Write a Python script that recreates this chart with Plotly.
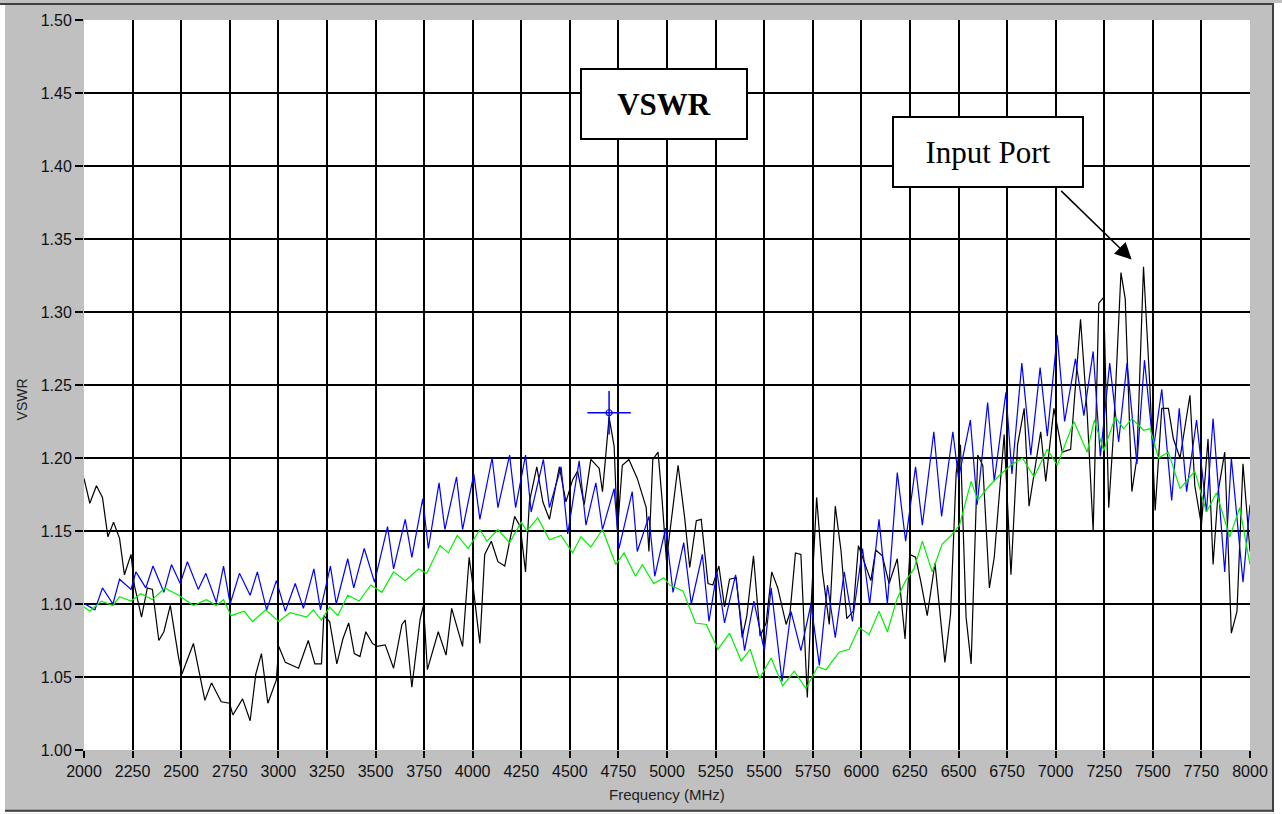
import plotly.graph_objects as go

# ---------------- data ----------------
black_freq = [2000, 2030, 2064, 2095, 2123, 2152, 2183, 2208, 2242, 2259, 2296, 2326, 2352, 2385, 2411, 2444,
              2487, 2504, 2563, 2622, 2656, 2706, 2749, 2766, 2816, 2855, 2884, 2913, 2946, 2990, 3002, 3036,
              3104, 3154, 3188, 3222, 3234, 3264, 3301, 3332, 3362, 3391, 3420, 3450, 3484, 3508, 3550, 3593,
              3636, 3653, 3687, 3730, 3747, 3767, 3823, 3863, 3892, 3948, 3982, 4006, 4037, 4062, 4096, 4130,
              4165, 4216, 4245, 4272, 4292, 4330, 4361, 4395, 4446, 4480, 4514, 4540, 4574, 4608, 4651, 4668,
              4681, 4702, 4728, 4745, 4770, 4804, 4847, 4893, 4907, 4927, 4954, 4975, 4997, 5057, 5091, 5117,
              5151, 5176, 5211, 5236, 5267, 5296, 5322, 5356, 5387, 5411, 5445, 5479, 5510, 5539, 5570, 5613,
              5633, 5661, 5689, 5722, 5741, 5770, 5800, 5835, 5866, 5895, 5925, 5958, 5985, 6014, 6049, 6074,
              6108, 6143, 6185, 6225, 6249, 6279, 6305, 6339, 6379, 6430, 6459, 6488, 6510, 6539, 6565, 6599,
              6625, 6659, 6684, 6735, 6770, 6804, 6838, 6863, 6897, 6923, 6949, 6991, 7034, 7077, 7128, 7162,
              7193, 7222, 7247, 7273, 7298, 7336, 7358, 7392, 7418, 7452, 7483, 7512, 7546, 7580, 7606, 7640,
              7691, 7716, 7750, 7784, 7810, 7836, 7870, 7904, 7933, 7964, 8000]
black_vswr = [1.186, 1.169, 1.181, 1.173, 1.146, 1.156, 1.145, 1.120, 1.134, 1.113, 1.091, 1.111, 1.110, 1.075, 1.081, 1.099,
              1.063, 1.052, 1.073, 1.034, 1.046, 1.033, 1.032, 1.024, 1.035, 1.020, 1.052, 1.066, 1.032, 1.048, 1.071, 1.060,
              1.056, 1.075, 1.059, 1.059, 1.092, 1.088, 1.059, 1.076, 1.087, 1.066, 1.064, 1.081, 1.073, 1.071, 1.072, 1.056,
              1.086, 1.089, 1.043, 1.090, 1.099, 1.055, 1.081, 1.065, 1.097, 1.071, 1.132, 1.108, 1.073, 1.134, 1.143, 1.129,
              1.126, 1.160, 1.153, 1.122, 1.170, 1.194, 1.170, 1.158, 1.194, 1.170, 1.185, 1.191, 1.168, 1.199, 1.193, 1.177,
              1.196, 1.228, 1.208, 1.150, 1.195, 1.199, 1.186, 1.166, 1.136, 1.199, 1.204, 1.171, 1.130, 1.195, 1.159, 1.125,
              1.157, 1.158, 1.114, 1.113, 1.126, 1.098, 1.117, 1.118, 1.077, 1.092, 1.133, 1.078, 1.087, 1.122, 1.111, 1.086,
              1.094, 1.135, 1.134, 1.036, 1.097, 1.173, 1.122, 1.086, 1.167, 1.137, 1.090, 1.095, 1.140, 1.129, 1.116, 1.137,
              1.133, 1.114, 1.131, 1.076, 1.134, 1.132, 1.116, 1.092, 1.128, 1.060, 1.093, 1.190, 1.209, 1.091, 1.059, 1.202,
              1.195, 1.111, 1.132, 1.216, 1.120, 1.209, 1.234, 1.167, 1.195, 1.218, 1.184, 1.234, 1.204, 1.206, 1.295, 1.231,
              1.150, 1.306, 1.310, 1.166, 1.218, 1.327, 1.309, 1.177, 1.200, 1.331, 1.254, 1.164, 1.234, 1.234, 1.213, 1.200,
              1.243, 1.181, 1.154, 1.213, 1.127, 1.177, 1.204, 1.080, 1.095, 1.196, 1.136]

blue_freq = [2005, 2056, 2095, 2149, 2183, 2242, 2267, 2318, 2355, 2411, 2450, 2495, 2532, 2588, 2627, 2681,
             2718, 2752, 2800, 2855, 2892, 2940, 2990, 3036, 3087, 3129, 3183, 3217, 3268, 3298, 3357, 3388,
             3442, 3495, 3562, 3593, 3653, 3687, 3743, 3772, 3827, 3857, 3917, 3948, 4006, 4037, 4100, 4130,
             4190, 4221, 4272, 4301, 4364, 4395, 4455, 4489, 4548, 4583, 4634, 4668, 4728, 4753, 4821, 4847,
             4907, 4937, 4993, 5031, 5086, 5125, 5182, 5216, 5257, 5296, 5353, 5399, 5447, 5501, 5536, 5592,
             5638, 5689, 5741, 5784, 5826, 5866, 5912, 5954, 6006, 6043, 6091, 6134, 6185, 6228, 6279, 6314,
             6373, 6413, 6471, 6500, 6561, 6596, 6650, 6684, 6744, 6775, 6826, 6872, 6920, 6957, 7008, 7046,
             7102, 7145, 7193, 7230, 7278, 7324, 7367, 7418, 7457, 7503, 7546, 7597, 7636, 7674, 7725, 7776,
             7810, 7870, 7904, 7964, 8000]
blue_vswr = [1.100, 1.096, 1.111, 1.100, 1.117, 1.110, 1.122, 1.111, 1.126, 1.108, 1.127, 1.114, 1.129, 1.110, 1.121, 1.101,
             1.126, 1.100, 1.121, 1.106, 1.122, 1.096, 1.116, 1.095, 1.114, 1.097, 1.124, 1.096, 1.126, 1.100, 1.131, 1.111,
             1.138, 1.115, 1.153, 1.124, 1.158, 1.132, 1.172, 1.138, 1.183, 1.151, 1.187, 1.151, 1.189, 1.158, 1.200, 1.166,
             1.202, 1.166, 1.202, 1.163, 1.199, 1.166, 1.194, 1.148, 1.198, 1.154, 1.183, 1.151, 1.179, 1.138, 1.177, 1.136,
             1.160, 1.119, 1.152, 1.108, 1.142, 1.100, 1.134, 1.088, 1.122, 1.087, 1.120, 1.068, 1.102, 1.068, 1.111, 1.047,
             1.095, 1.068, 1.100, 1.058, 1.113, 1.077, 1.122, 1.088, 1.138, 1.100, 1.158, 1.100, 1.190, 1.143, 1.194, 1.154,
             1.218, 1.160, 1.218, 1.186, 1.226, 1.168, 1.238, 1.184, 1.245, 1.189, 1.265, 1.202, 1.262, 1.215, 1.284, 1.225,
             1.268, 1.229, 1.273, 1.201, 1.265, 1.211, 1.265, 1.196, 1.267, 1.206, 1.247, 1.171, 1.234, 1.177, 1.226, 1.163,
             1.227, 1.122, 1.200, 1.115, 1.168]

green_freq = [2000, 2030, 2090, 2149, 2183, 2242, 2292, 2351, 2416, 2487, 2563, 2630, 2681, 2718, 2757, 2825,
              2867, 2935, 3002, 3061, 3146, 3180, 3222, 3264, 3306, 3357, 3416, 3476, 3533, 3593, 3653, 3721,
              3764, 3832, 3875, 3921, 3977, 4037, 4074, 4130, 4190, 4250, 4279, 4335, 4395, 4455, 4514, 4557,
              4608, 4668, 4736, 4779, 4838, 4873, 4932, 4983, 5014, 5082, 5147, 5202, 5262, 5322, 5382, 5428,
              5476, 5536, 5595, 5655, 5715, 5775, 5818, 5886, 5937, 5989, 6040, 6091, 6134, 6185, 6228, 6271,
              6314, 6365, 6416, 6462, 6505, 6565, 6599, 6659, 6718, 6770, 6829, 6889, 6957, 7008, 7094, 7162,
              7199, 7247, 7307, 7350, 7392, 7452, 7486, 7529, 7580, 7640, 7716, 7776, 7827, 7896, 7947, 8000]
green_vswr = [1.098, 1.095, 1.102, 1.099, 1.105, 1.102, 1.107, 1.103, 1.111, 1.106, 1.099, 1.103, 1.099, 1.103, 1.092, 1.095,
              1.088, 1.096, 1.088, 1.094, 1.091, 1.096, 1.089, 1.098, 1.092, 1.106, 1.102, 1.113, 1.108, 1.122, 1.116, 1.124,
              1.121, 1.140, 1.135, 1.147, 1.138, 1.151, 1.143, 1.151, 1.142, 1.156, 1.150, 1.159, 1.144, 1.147, 1.135, 1.146,
              1.139, 1.151, 1.127, 1.135, 1.119, 1.127, 1.114, 1.118, 1.113, 1.109, 1.087, 1.086, 1.069, 1.080, 1.061, 1.069,
              1.049, 1.063, 1.044, 1.054, 1.042, 1.057, 1.055, 1.067, 1.069, 1.084, 1.079, 1.095, 1.081, 1.104, 1.116, 1.124,
              1.143, 1.122, 1.141, 1.147, 1.154, 1.184, 1.171, 1.181, 1.189, 1.195, 1.200, 1.187, 1.206, 1.195, 1.225, 1.204,
              1.226, 1.205, 1.228, 1.220, 1.227, 1.219, 1.220, 1.200, 1.204, 1.179, 1.191, 1.163, 1.176, 1.146, 1.166, 1.127]

cursor_freq = [4702]
cursor_vswr = [1.231]

arrow_tip_freq = 7391
arrow_tip_vswr = 1.336

x_ticks = [2000, 2250, 2500, 2750, 3000, 3250, 3500, 3750, 4000, 4250, 4500, 4750, 5000,
           5250, 5500, 5750, 6000, 6250, 6500, 6750, 7000, 7250, 7500, 7750, 8000]
y_ticks = [1.00, 1.05, 1.10, 1.15, 1.20, 1.25, 1.30, 1.35, 1.40, 1.45, 1.50]
y_tick_text = ["%.2f" % v for v in y_ticks]

# ---------------- figure ----------------
W, H = 1282, 814
L, R, T, B = 84, 32, 17, 64
PW, PH = W - L - R, H - T - B


def px(xp):
    return (xp - L) / PW


def py(yp):
    return (H - B - yp) / PH


fig = go.Figure()
fig.add_trace(go.Scatter(x=black_freq, y=black_vswr, mode="lines",
                         line=dict(color="#000000", width=1.2), hoverinfo="skip"))
fig.add_trace(go.Scatter(x=blue_freq, y=blue_vswr, mode="lines",
                         line=dict(color="#0000ff", width=1.2), hoverinfo="skip"))
fig.add_trace(go.Scatter(x=green_freq, y=green_vswr, mode="lines",
                         line=dict(color="#00f000", width=1.2), hoverinfo="skip"))
fig.add_trace(go.Scatter(x=cursor_freq, y=cursor_vswr, mode="markers",
                         marker=dict(symbol="cross-thin-open", size=31, color="#0000ff",
                                     line=dict(color="#0000ff", width=1.5)), hoverinfo="skip"))
fig.add_trace(go.Scatter(x=cursor_freq, y=cursor_vswr, mode="markers",
                         marker=dict(symbol="circle-open", size=6, color="#0000ff",
                                     line=dict(color="#0000ff", width=1.2)), hoverinfo="skip"))

tickfont = dict(family="Liberation Sans, Arial, sans-serif", size=16, color="#111111")
fig.update_xaxes(range=[2000, 8000], tickvals=x_ticks, ticktext=[str(v) for v in x_ticks],
                 showgrid=True, gridcolor="#000000", gridwidth=1.5, zeroline=False, showline=False,
                 ticks="outside", ticklen=7, tickwidth=1.5, tickcolor="#000000", tickfont=tickfont)
fig.update_yaxes(range=[1.0, 1.5], tickvals=y_ticks, ticktext=y_tick_text,
                 showgrid=True, gridcolor="#000000", gridwidth=1.5, zeroline=False, showline=False,
                 ticks="outside", ticklen=8, tickwidth=1.5, tickcolor="#000000", tickfont=tickfont)

shapes = [
    # window frame
    dict(type="rect", xref="paper", yref="paper", x0=px(0), x1=px(5), y0=py(H), y1=py(0),
         fillcolor="#ffffff", line=dict(width=0), layer="below"),
    dict(type="rect", xref="paper", yref="paper", x0=px(1274), x1=px(W), y0=py(H), y1=py(0),
         fillcolor="#ffffff", line=dict(width=0), layer="below"),
    dict(type="rect", xref="paper", yref="paper", x0=px(0), x1=px(W), y0=py(H), y1=py(812),
         fillcolor="#ffffff", line=dict(width=0), layer="below"),
    dict(type="line", xref="paper", yref="paper", x0=px(0), x1=px(1274), y0=py(1), y1=py(1),
         line=dict(color="#404040", width=2)),
    dict(type="line", xref="paper", yref="paper", x0=px(1273), x1=px(1273), y0=py(0), y1=py(812),
         line=dict(color="#404040", width=2)),
    dict(type="line", xref="paper", yref="paper", x0=px(5), x1=px(1274), y0=py(811), y1=py(811),
         line=dict(color="#404040", width=2)),
]

annotations = [
    dict(xref="paper", yref="paper", x=px(664), y=py(101.5), xanchor="center", yanchor="middle",
         text="<b>VSWR</b>", showarrow=False,
         font=dict(family="Liberation Serif, Times New Roman, serif", size=31, color="#000000"),
         bgcolor="#ffffff", bordercolor="#000000", borderwidth=2, borderpad=0, width=164, height=68),
    dict(xref="paper", yref="paper", x=px(988), y=py(150), xanchor="center", yanchor="middle",
         text="Input Port", showarrow=False,
         font=dict(family="Liberation Serif, Times New Roman, serif", size=31, color="#000000"),
         bgcolor="#ffffff", bordercolor="#000000", borderwidth=2, borderpad=0, width=188, height=68),
    dict(xref="x", yref="y", x=arrow_tip_freq, y=arrow_tip_vswr, text="", showarrow=True,
         ax=-72, ay=-70, arrowhead=2, arrowsize=2.2, arrowwidth=1.5, arrowcolor="#000000",
         standoff=0, startstandoff=0),
    dict(xref="paper", yref="paper", x=px(22), y=py(398), xanchor="center", yanchor="middle",
         text="VSWR", textangle=-90, showarrow=False,
         font=dict(family="Liberation Sans, Arial, sans-serif", size=14, color="#222222")),
    dict(xref="paper", yref="paper", x=px(667), y=py(795), xanchor="center", yanchor="middle",
         text="Frequency (MHz)", showarrow=False,
         font=dict(family="Liberation Sans, Arial, sans-serif", size=15, color="#222222")),
]

fig.update_layout(width=W, height=H, margin=dict(l=L, r=R, t=T, b=B, pad=0),
                  paper_bgcolor="#c0c0c0", plot_bgcolor="#ffffff", showlegend=False,
                  shapes=shapes, annotations=annotations)

fig.write_html("out.html", config={"displayModeBar": False},
               post_script="document.body.style.margin='0';document.body.style.overflow='hidden';")
